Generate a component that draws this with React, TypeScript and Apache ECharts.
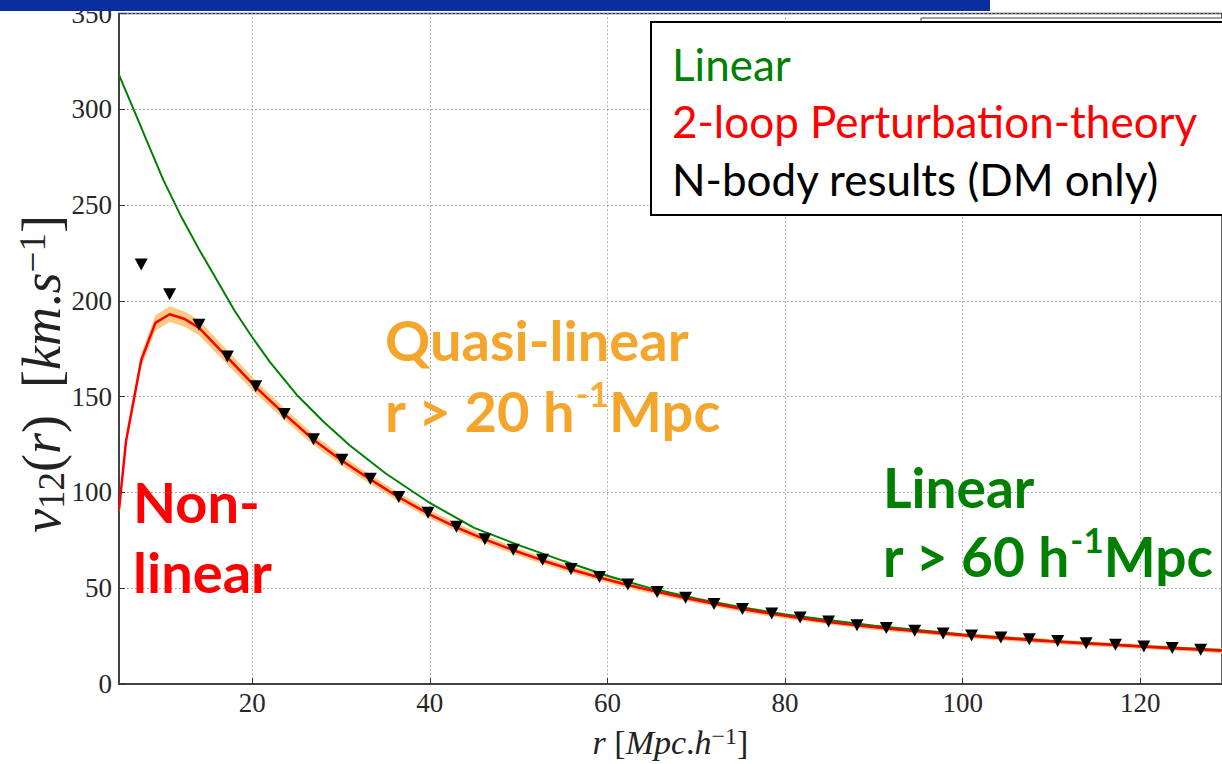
import React, { useEffect, useRef } from 'react';
import * as echarts from 'echarts';

// Linear theory (green)
const linearR = [5, 6, 7, 8, 9, 10, 12, 14, 16, 18, 20, 22, 25, 28, 31, 35, 40, 45, 50, 55, 60, 65, 70, 75, 80, 90, 100, 110, 120, 129.2];
const linearV = [318, 307, 296, 285, 274, 263, 244, 227, 211, 195, 181, 168, 151, 137, 124.5, 110, 94.5, 81.5, 72.5, 64.3, 56.5, 49.8, 44.5, 40.1, 36.3, 30.4, 25.8, 22.5, 19.8, 17.7];

// 2-loop perturbation theory (red) and its uncertainty half-width (orange band)
const ptR = [5, 5.8, 7.5, 9.1, 10.7, 12.4, 14.0, 17.2, 20.4, 23.6, 26.9, 30.1, 33.3, 36.5, 39.8, 43.0, 46.2, 49.4, 52.7, 55.9, 59.1, 62.3, 65.6, 68.8, 72.0, 75.2, 78.5, 81.7, 84.9, 88.1, 91.4, 94.6, 97.8, 101.0, 104.3, 107.5, 110.7, 113.9, 117.2, 120.4, 123.6, 126.8, 129.2];
const ptV = [91, 127, 169, 188.5, 193, 190.5, 186, 170.5, 155, 141, 127.5, 116.5, 106.8, 97.5, 89, 81.8, 75.5, 69.8, 64.5, 59.8, 55.6, 51.7, 48.1, 44.9, 41.9, 39.1, 36.6, 34.4, 32.4, 30.6, 29.0, 27.6, 26.3, 25.1, 24.0, 23.0, 22.0, 21.1, 20.3, 19.5, 18.7, 17.9, 17.3];
const ptBand = [1.5, 2.5, 3.5, 4, 4, 4, 3.9, 3.7, 3.4, 3.1, 2.8, 2.6, 2.4, 2.3, 2.2, 2.1, 2.0, 1.9, 1.8, 1.8, 1.7, 1.7, 1.6, 1.6, 1.5, 1.5, 1.5, 1.4, 1.4, 1.4, 1.4, 1.3, 1.3, 1.3, 1.3, 1.3, 1.3, 1.2, 1.2, 1.2, 1.2, 1.2, 1.2];

// N-body results (black triangles)
const nbodyR = [7.5, 10.7, 14.0, 17.2, 20.4, 23.6, 26.9, 30.1, 33.3, 36.5, 39.8, 43.0, 46.2, 49.4, 52.7, 55.9, 59.1, 62.3, 65.6, 68.8, 72.0, 75.2, 78.5, 81.7, 84.9, 88.1, 91.4, 94.6, 97.8, 101.0, 104.3, 107.5, 110.7, 113.9, 117.2, 120.4, 123.6, 126.8];
const nbodyV = [219, 203.5, 187.5, 171, 155.4, 141, 127.7, 117, 107.2, 97.6, 89.4, 82.1, 75.6, 70.1, 64.8, 60.0, 55.9, 51.9, 48.0, 45.0, 41.8, 39.1, 36.8, 34.7, 32.6, 30.7, 29.2, 27.8, 26.3, 25.3, 24.3, 23.3, 22.4, 21.3, 20.5, 19.6, 18.8, 17.9];

const legendLabels = ['Linear', '2-loop Perturbation-theory', 'N-body results (DM only)'];
const legendColors = ['#008000', '#ff0000', '#000000'];

const SERIF = 'Liberation Serif';
const SANS = 'Lato';

export default function App() {
  const ref = useRef<HTMLDivElement>(null);

  useEffect(() => {
    const chart = echarts.init(ref.current!, null, { renderer: 'svg' });
    const zip = (a: number[], b: number[]) => a.map((x, i) => [x, b[i]]);

    const gridLine = { show: true, lineStyle: { color: '#9a9a9a', width: 1, type: [1.5, 2.5] as any } };

    const annotationRich = (color: string) => ({
      sup: { fontSize: 35, fontWeight: 'bold', fontFamily: SANS, lineHeight: 28, verticalAlign: 'top', fill: color },
    });

    chart.setOption({
      animation: false,
      backgroundColor: '#ffffff',
      grid: { left: 119, top: 8, bottom: 73, right: -12, show: true, borderColor: '#333', borderWidth: 1.5, backgroundColor: 'transparent' },
      xAxis: {
        type: 'value',
        min: 5,
        max: 129.2,
        splitNumber: 6,
        axisLine: { lineStyle: { color: '#333', width: 1.5 } },
        axisTick: { inside: true, length: 6, lineStyle: { color: '#333' } },
        axisLabel: { showMinLabel: false, showMaxLabel: false, fontFamily: SERIF, fontSize: 27, color: '#262626', margin: 5 },
        splitLine: gridLine,
        name: '{i|r}{n| [}{i|Mpc}{n|.}{i|h}{sup|\u22121}{n|]}',
        nameLocation: 'middle',
        nameGap: 40,
        nameTextStyle: {
          fontFamily: SERIF,
          fontSize: 34,
          color: '#222',
          rich: {
            i: { fontFamily: SERIF, fontSize: 34, fontStyle: 'italic', color: '#222', lineHeight: 36 },
            n: { fontFamily: SERIF, fontSize: 34, color: '#222', lineHeight: 36 },
            sup: { fontFamily: SERIF, fontSize: 24, color: '#222', lineHeight: 20, verticalAlign: 'top' },
          },
        },
      },
      yAxis: {
        type: 'value',
        min: 0,
        max: 350,
        interval: 50,
        axisLine: { show: true, lineStyle: { color: '#333', width: 1.5 } },
        axisTick: { show: true, inside: true, length: 6, lineStyle: { color: '#333' } },
        axisLabel: { fontFamily: SERIF, fontSize: 27, color: '#262626', margin: 7, padding: [0, 0, 6, 0] },
        splitLine: gridLine,
      },
      series: [
        {
          name: 'band',
          type: 'custom',
          silent: true,
          z: 1,
          data: [[ptR[0], ptV[0]]],
          renderItem: (_params: any, api: any) => {
            const upper = ptR.map((r, i) => api.coord([r, ptV[i] + ptBand[i]]));
            const lower = ptR.map((r, i) => api.coord([r, ptV[i] - ptBand[i]])).reverse();
            return {
              type: 'polygon',
              shape: { points: upper.concat(lower) },
              style: { fill: '#fcc983', stroke: 'none' },
            };
          },
        },
        {
          name: 'Linear', type: 'line', data: zip(linearR, linearV), symbol: 'none',
          lineStyle: { color: '#008000', width: 2 }, z: 2,
        },
        {
          name: '2-loop Perturbation-theory', type: 'line', data: zip(ptR, ptV), symbol: 'none',
          lineStyle: { color: '#ff0000', width: 2.5 }, z: 3,
        },
        {
          name: 'N-body results (DM only)', type: 'scatter', data: zip(nbodyR, nbodyV), symbol: 'triangle', symbolRotate: 180,
          symbolSize: [13, 12], itemStyle: { color: '#000', opacity: 1 }, z: 4,
        },
      ],
      graphic: [
        { type: 'rect', z: 100, shape: { x: 0, y: 0, width: 990, height: 11 }, style: { fill: '#0b2e9e' } },
        { type: 'rect', z: 100, shape: { x: 921, y: 18, width: 400, height: 180 }, style: { fill: '#fff', stroke: '#444', lineWidth: 1 } },
        { type: 'rect', z: 101, shape: { x: 651, y: 22, width: 620, height: 193 }, style: { fill: '#fff', stroke: '#000', lineWidth: 2 } },
        ...legendLabels.map((t, i) => ({
          type: 'text', z: 102, x: 672, y: [64, 121, 179][i],
          style: { text: t, fill: legendColors[i], fontFamily: SANS, fontSize: 44, align: 'left', verticalAlign: 'middle' },
        })),
        {
          type: 'text', z: 102, x: 385, y: 304,
          style: {
            text: 'Quasi-linear\nr > 20 h{sup|-1}Mpc', fill: '#f4a52c', fontFamily: SANS, fontWeight: 'bold', fontSize: 56,
            lineHeight: 71, align: 'left', verticalAlign: 'top', rich: annotationRich('#f5ad35'),
          },
        },
        {
          type: 'text', z: 102, x: 133, y: 466,
          style: {
            text: 'Non-\nlinear', fill: '#ff0000', fontFamily: SANS, fontWeight: 'bold', fontSize: 56,
            lineHeight: 70, align: 'left', verticalAlign: 'top',
          },
        },
        {
          type: 'text', z: 102, x: 883, y: 452,
          style: {
            text: 'Linear\nr > 60 h{sup|-1}Mpc', fill: '#008000', fontFamily: SANS, fontWeight: 'bold', fontSize: 55,
            lineHeight: 69, align: 'left', verticalAlign: 'top', rich: annotationRich('#008000'),
          },
        },
        {
          type: 'text', z: 102, x: 42, y: 374, rotation: Math.PI / 2,
          style: {
            text: '{i|v}{sub|12}{n|(}{i|r}{n|)  [}{i|km}{n|.}{i|s}{sup|\u22121}{n|]}',
            fill: '#222', fontFamily: SERIF, fontSize: 54, align: 'center', verticalAlign: 'middle',
            rich: {
              i: { fontFamily: SERIF, fontSize: 54, fontStyle: 'italic', lineHeight: 56, fill: '#222' },
              n: { fontFamily: SERIF, fontSize: 54, lineHeight: 56, fill: '#222' },
              sub: { fontFamily: SERIF, fontSize: 37, lineHeight: 34, verticalAlign: 'bottom', fill: '#222' },
              sup: { fontFamily: SERIF, fontSize: 37, lineHeight: 26, verticalAlign: 'top', fill: '#222' },
            },
          },
        },
      ],
    });

    return () => chart.dispose();
  }, []);

  return (
    <div
      ref={ref}
      style={{ position: 'absolute', left: 0, top: 0, width: 1222, height: 764, background: '#fff' }}
    />
  );
}
